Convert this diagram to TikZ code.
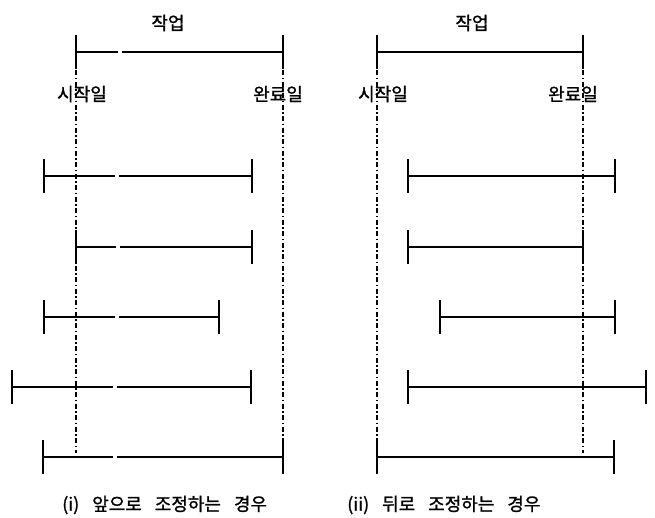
\documentclass[tikz,border=0pt]{standalone}
\usepackage{fontspec}
\newfontfamily\krfont[WordSpace=3.2,FakeBold=1.2]{Noto Sans CJK KR}
\newcommand\ivl[5]{% name, x1, x2, y, length before gap (0 = no gap)
  \coordinate (#1-s) at (#2,#4);
  \coordinate (#1-e) at (#3,#4);
  \ifnum#5=0 \draw[bar] (#1-s) -- (#1-e);
  \else \draw[bar, dash pattern=on #5pt off 4pt on 1000pt] (#1-s) -- (#1-e);\fi
  \draw[tickline] ([yshift=17pt]#1-s) -- ([yshift=-17pt]#1-s);
  \draw[tickline] ([yshift=17pt]#1-e) -- ([yshift=-17pt]#1-e);
}
\begin{document}
\begin{tikzpicture}[x=1pt,y=-1pt,
  bar/.style={line width=2.1pt},
  tickline/.style={line width=1.8pt},
  guide/.style={line width=1.6pt, dash pattern=on 5pt off 2.5pt on 1.5pt off 2.5pt},
  lbl/.style={font=\krfont\fontsize{18}{20}\selectfont, inner sep=0pt},
  captxt/.style={font=\krfont\fontsize{18}{20}\selectfont, inner sep=0pt, anchor=west}]
\useasboundingbox (0,0) rectangle (655,517);
% ---- left panel
\ivl{Lt}{76}{283}{52}{42}
\ivl{L1}{44}{252}{176}{71}
\ivl{L2}{76}{252}{247}{40}
\ivl{L3}{44}{219}{317}{71}
\ivl{L4}{12}{251}{387}{101}
\ivl{L5}{43}{283}{457}{70}
\coordinate (Lg1) at (76,70);  \coordinate (Lg1b) at (76,453);
\coordinate (Lg2) at (283,70); \coordinate (Lg2b) at (283,440);
\draw[guide] (Lg1) -- (Lg1b);
\draw[guide] (Lg2) -- (Lg2b);
\node[lbl] (Lwork) at (168,23) {작업};
\node[lbl] (Lstart) at (82,94) {시작일};
\node[lbl] (Lend) at (278,94) {완료일};
\node[captxt] (Lcap) at (62,505) {(i) 앞으로 조정하는 경우};
% ---- right panel
\ivl{Rt}{377}{583}{52}{0}
\ivl{R1}{408}{615}{176}{0}
\ivl{R2}{408}{583}{247}{0}
\ivl{R3}{440}{615}{317}{0}
\ivl{R4}{408}{646}{387}{0}
\ivl{R5}{377}{614}{457}{0}
\coordinate (Rg1) at (377,70);  \coordinate (Rg1b) at (377,440);
\coordinate (Rg2) at (583,70); \coordinate (Rg2b) at (583,453);
\draw[guide] (Rg1) -- (Rg1b);
\draw[guide] (Rg2) -- (Rg2b);
\node[lbl] (Rwork) at (472,23) {작업};
\node[lbl] (Rstart) at (383,94) {시작일};
\node[lbl] (Rend) at (573,94) {완료일};
\node[captxt] (Rcap) at (347,505) {(ii) 뒤로 조정하는 경우};
\end{tikzpicture}
\end{document}
